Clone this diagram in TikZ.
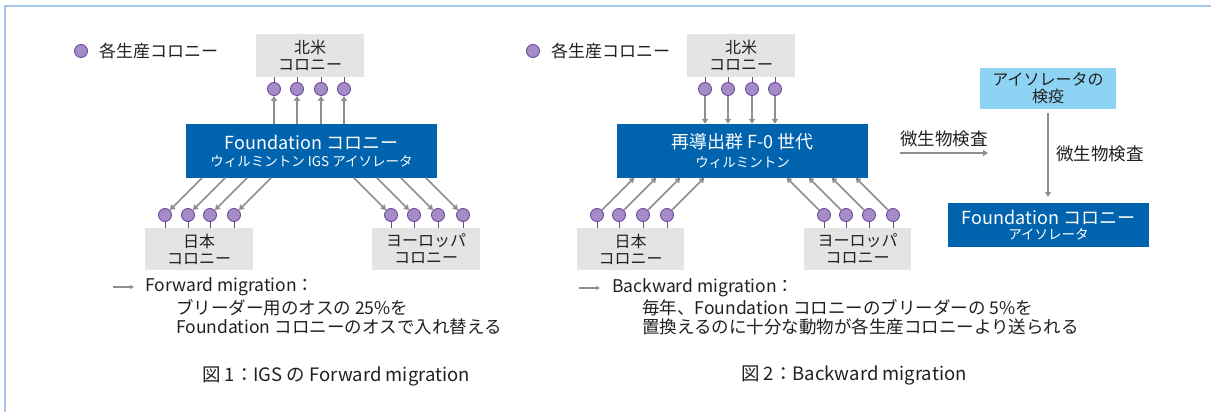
\documentclass[tikz,border=0pt]{standalone}
\usepackage{fontspec}
\setmainfont{Noto Sans CJK JP}
\usetikzlibrary{arrows.meta,calc}
\definecolor{frameblue}{HTML}{A3C6EA}
\definecolor{boxgray}{HTML}{E3E4E3}
\definecolor{boxblue}{HTML}{0063AE}
\definecolor{lightblue}{HTML}{8DD3F3}
\definecolor{circfill}{HTML}{A68CC6}
\definecolor{circline}{HTML}{6A4A9E}
\definecolor{arrgray}{HTML}{8E8E8E}
\definecolor{txt}{HTML}{231F20}
\tikzset{
  graybox/.style={fill=boxgray,draw=none,align=center,text=txt,font=\fontsize{16}{16}\selectfont,inner sep=0},
  bluebox/.style={fill=boxblue,draw=none,align=center,text=white,inner sep=0},
  qbox/.style={fill=lightblue,draw=none,align=center,text=txt,font=\fontsize{16}{16}\selectfont,inner sep=0},
  col/.style={circle,fill=circfill,draw=circline,line width=0.9pt,minimum size=13pt,inner sep=0},
  stem/.style={draw=circline,line width=1pt},
  arr/.style={draw=arrgray,line width=1.7pt,-{Triangle[width=6pt,length=5pt]}},
  lbl/.style={text=txt,inner sep=0,anchor=west,font=\fontsize{17.5}{17.5}\selectfont},
  captxt/.style={text=txt,inner sep=0,font=\fontsize{18.5}{18.5}\selectfont},
  frameline/.style={draw=frameblue,line width=1.5pt}
}
\begin{document}
\begin{tikzpicture}[x=1pt,y=1pt]
\useasboundingbox (0,0) rectangle (1211,412);
\coordinate (fr1) at (5,0);
\coordinate (fr2) at (5,406);
\coordinate (fr3) at (1211,406);
\draw[frameline] (fr1) -- (fr2) -- (fr3);

% ================= Figure 1 =================
\node[col] (legL) at (81,361) {};
\node[lbl,font=\fontsize{17}{17}\selectfont] (legLt) at (99,361) {各生産コロニー};

\node[graybox,minimum width=108pt,minimum height=43pt] (naL) at (310,356.5) {北米\\[1pt]コロニー};
\node[bluebox,minimum width=251pt,minimum height=54pt] (fL) at (311.5,261)
  {{\fontsize{18}{18}\selectfont Foundation コロニー}\\[5pt]{\fontsize{13.5}{13.5}\selectfont ウィルミントン IGS アイソレータ}};
\node[graybox,minimum width=108pt,minimum height=42pt] (jpL) at (199,163) {日本\\[1pt]コロニー};
\node[graybox,minimum width=108pt,minimum height=42pt] (euL) at (426,163) {ヨーロッパ\\[1pt]コロニー};

\foreach \i/\x in {1/274,2/297,3/321,4/344}{
  \node[col] (tL\i) at (\x,323) {};
  \draw[stem] (tL\i.north) -- (tL\i.north |- naL.south);
  \draw[arr] (tL\i.south |- fL.north) -- (tL\i.south);
}
\foreach \i/\x in {1/165,2/188,3/210,4/234}{
  \node[col] (jL\i) at (\x,197) {};
  \draw[stem] (jL\i.south) -- (jL\i.south |- jpL.north);
  \draw[arr] ($(jL\i.45)+(32.4,32.4)$) -- (jL\i.45);
}
\foreach \i/\x in {1/391,2/414,3/438,4/463}{
  \node[col] (eL\i) at (\x,197) {};
  \draw[stem] (eL\i.south) -- (eL\i.south |- euL.north);
  \draw[arr] ($(eL\i.135)+(-32.4,32.4)$) -- (eL\i.135);
}

\coordinate (laL1) at (113,125);
\coordinate (laL2) at (134,125);
\draw[draw=arrgray,line width=1.2pt,-{Triangle[width=4pt,length=4pt]}] (laL1) -- (laL2);
\node[lbl] (fwd1) at (145,125) {Forward migration：};
\node[lbl] (fwd2) at (176,104) {ブリーダー用のオスの 25\%を};
\node[lbl] (fwd3) at (176,85) {Foundation コロニーのオスで入れ替える};

\node[captxt] (capL) at (336,36) {図 1：IGS の Forward migration};

% ================= Figure 2 =================
\node[col] (legR) at (533,361) {};
\node[lbl,font=\fontsize{17}{17}\selectfont] (legRt) at (551,361) {各生産コロニー};

\node[graybox,minimum width=108pt,minimum height=43pt] (naR) at (741,356.5) {北米\\[1pt]コロニー};
\node[bluebox,minimum width=251pt,minimum height=54pt] (fR) at (742.5,261)
  {{\fontsize{18}{18}\selectfont 再導出群 F-0 世代}\\[5pt]{\fontsize{13.5}{13.5}\selectfont ウィルミントン}};
\node[graybox,minimum width=107pt,minimum height=42pt] (jpR) at (630.5,163) {日本\\[1pt]コロニー};
\node[graybox,minimum width=107pt,minimum height=42pt] (euR) at (857.5,163) {ヨーロッパ\\[1pt]コロニー};

\foreach \i/\x in {1/705,2/728,3/752,4/775}{
  \node[col] (tR\i) at (\x,323) {};
  \draw[stem] (tR\i.north) -- (tR\i.north |- naR.south);
  \draw[arr] (tR\i.south) -- (tR\i.south |- fR.north);
}
\foreach \i/\x in {1/597,2/619,3/643,4/667}{
  \node[col] (jR\i) at (\x,197) {};
  \draw[stem] (jR\i.south) -- (jR\i.south |- jpR.north);
  \draw[arr] (jR\i.45) -- ($(jR\i.45)+(32.4,32.4)$);
}
\foreach \i/\x in {1/824,2/846,3/869,4/893}{
  \node[col] (eR\i) at (\x,197) {};
  \draw[stem] (eR\i.south) -- (eR\i.south |- euR.north);
  \draw[arr] (eR\i.135) -- ($(eR\i.135)+(-32.4,32.4)$);
}

\node[lbl] (mic1) at (900,273) {微生物検査};
\coordinate (ma1) at (900,259);
\coordinate (ma2) at (988,259);
\draw[arr,line width=1.5pt] (ma1) -- (ma2);

\node[qbox,minimum width=136pt,minimum height=41pt] (qR) at (1048,323.5) {アイソレータの\\[1pt]検疫};
\node[bluebox,minimum width=201pt,minimum height=44pt] (fdR) at (1048.5,187)
  {{\fontsize{18}{18}\selectfont Foundation コロニー}\\[3pt]{\fontsize{13.5}{13.5}\selectfont アイソレータ}};
\draw[arr,line width=1.2pt,shorten <=4pt,shorten >=6pt] (qR.south) -- (qR.south |- fdR.north);
\node[lbl] (mic2) at (1056,258) {微生物検査};

\coordinate (laR1) at (579,124);
\coordinate (laR2) at (600,124);
\draw[draw=arrgray,line width=1.2pt,-{Triangle[width=4pt,length=4pt]}] (laR1) -- (laR2);
\node[lbl] (bwd1) at (612,124) {Backward migration：};
\node[lbl] (bwd2) at (642,104) {毎年、Foundation コロニーのブリーダーの 5\%を};
\node[lbl] (bwd3) at (642,85) {置換えるのに十分な動物が各生産コロニーより送られる};

\node[captxt] (capR) at (854,37) {図 2：Backward migration};
\end{tikzpicture}
\end{document}
